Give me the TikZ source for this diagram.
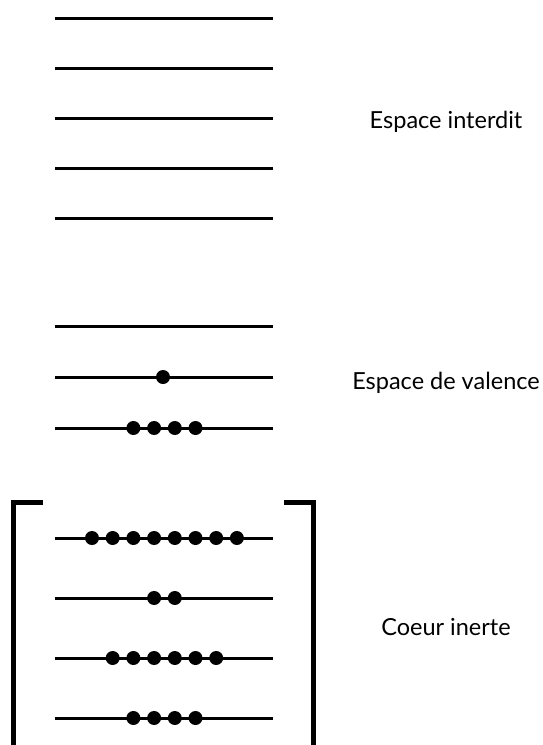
\documentclass[tikz,border=0pt]{standalone}
\usepackage{fontspec}
\setmainfont{Lato}
\usetikzlibrary{positioning}

\begin{document}
\begin{tikzpicture}[x=1pt,y=-1pt]
\tikzset{level/.style={line width=3pt},
  electron/.style={circle,fill=black,inner sep=0pt,minimum size=14pt},
  bracket/.style={line width=5pt},
  zone/.style={anchor=base,font=\fontsize{23.5}{28}\selectfont}}
\useasboundingbox (0,0) rectangle (542,745);

% energy levels
\foreach \y in {18,68,118,168,218,326,377,428,538,598,658,718}
  \draw[level] (55,\y) -- (273,\y);

% electrons
\node[electron] (e1) at (163,377) {};
\foreach \y/\a/\b in {428/2/5,538/0/7,598/3/4,658/1/6,718/2/5}
  \foreach \k in {\a,...,\b}
    \node[electron] at ({92+20.7*\k},\y) {};

% core bracket
\draw[bracket] (43,502) -- (13.5,502) -- (13.5,748);
\draw[bracket] (284,502) -- (313.5,502) -- (313.5,748);

% Text Node
\node[zone] (interdit) at (446,128) {Espace interdit};
% Text Node
\node[zone] (valence) at (446,389) {Espace de valence};
% Text Node
\node[zone] (coeur) at (446,635) {Coeur inerte};

\end{tikzpicture}
\end{document}
